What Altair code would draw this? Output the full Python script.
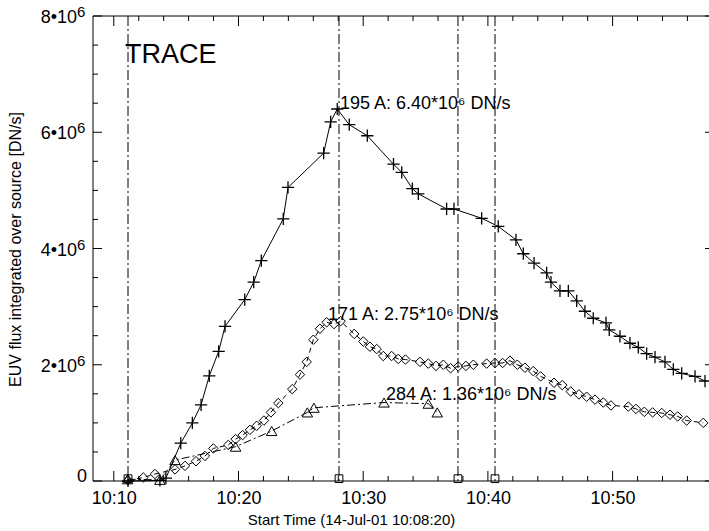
import altair as alt
import pandas as pd

# time in minutes after 10:00 UT (14-Jul-01), flux in units of 1e6 DN/s
t195 = [11.14, 13.70, 14.18, 15.37, 16.30, 17.00, 17.66, 18.41, 18.92, 20.50, 21.22, 21.83,
        23.59, 23.97, 26.83, 27.39, 27.92, 28.88, 30.33, 32.43, 33.09, 33.94, 34.42, 36.69,
        37.28, 39.50, 40.83, 42.25, 42.84, 43.70, 44.71, 45.06, 45.78, 46.45, 47.12, 47.78,
        48.45, 49.47, 49.73, 50.59, 51.39, 52.06, 52.73, 53.40, 54.20, 54.87, 55.54, 56.61, 57.41]
f195 = [0.00, 0.01, 0.05, 0.65, 1.00, 1.31, 1.81, 2.23, 2.66, 3.12, 3.42, 3.79,
        4.51, 5.05, 5.64, 6.18, 6.40, 6.13, 5.94, 5.45, 5.31, 5.03, 4.94, 4.68,
        4.68, 4.52, 4.38, 4.15, 3.91, 3.75, 3.58, 3.42, 3.27, 3.27, 3.10, 2.92,
        2.80, 2.72, 2.60, 2.49, 2.37, 2.30, 2.19, 2.13, 2.05, 1.92, 1.85, 1.80, 1.72]

t171 = [11.14, 12.37, 13.30, 14.91, 15.71, 16.59, 17.31, 17.98, 19.18, 19.77, 20.33, 20.92,
        21.46, 22.04, 22.60, 23.19, 24.31, 24.93, 25.47, 26.00, 26.53, 27.07, 27.66, 28.19,
        29.28, 30.01, 30.54, 31.08, 31.61, 32.28, 32.81, 33.39, 34.55, 35.22, 35.84, 36.42,
        37.01, 37.62, 38.24, 38.83, 39.90, 40.57, 41.18, 41.77, 42.36, 42.97, 43.64, 44.23,
        45.30, 45.96, 46.64, 47.30, 47.92, 48.59, 49.25, 49.87, 51.26, 51.87, 52.54, 53.21,
        53.94, 54.60, 55.22, 55.94, 57.27]
f171 = [0.01, 0.06, 0.12, 0.20, 0.26, 0.34, 0.43, 0.56, 0.62, 0.72, 0.79, 0.88,
        0.95, 1.04, 1.18, 1.34, 1.58, 1.83, 2.05, 2.43, 2.62, 2.73, 2.70, 2.75,
        2.53, 2.40, 2.31, 2.27, 2.15, 2.15, 2.10, 2.09, 2.05, 2.02, 1.98, 2.00,
        1.94, 1.97, 1.98, 2.00, 2.02, 2.03, 2.03, 2.07, 2.00, 1.95, 1.89, 1.80,
        1.69, 1.65, 1.54, 1.49, 1.45, 1.40, 1.35, 1.30, 1.28, 1.24, 1.19, 1.18,
        1.17, 1.14, 1.11, 1.04, 1.00]

t284 = [11.11, 13.70, 14.91, 19.77, 22.66, 25.52, 26.05, 31.67, 35.22, 35.94]
f284 = [0.03, 0.02, 0.36, 0.59, 0.86, 1.18, 1.26, 1.35, 1.33, 1.18]

event_t = [11.14, 28.06, 37.60, 40.57]
event_f = [0.04, 0.04, 0.04, 0.04]

ann_t = [28.14, 27.18, 31.83]
ann_f = [6.49, 2.86, 1.48]
ann_text = ["195 A: 6.40*10⁶ DN/s", "171 A: 2.75*10⁶ DN/s", "284 A: 1.36*10⁶ DN/s"]

x_major = [10, 20, 30, 40, 50]
x_minor = [12, 14, 16, 18, 22, 24, 26, 28, 32, 34, 36, 38, 42, 44, 46, 48, 52, 54, 56]
y_major = [0, 2, 4, 6, 8]
y_minor = [0.5, 1, 1.5, 2.5, 3, 3.5, 4.5, 5, 5.5, 6.5, 7, 7.5]
y_lab_f = [2, 4, 6, 8]
y_lab_text = ["2•10", "4•10", "6•10", "8•10"]
y_lab_sup = ["6", "6", "6", "6"]

W, H = 616, 465
FONT = "Liberation Sans"

xscale = alt.Scale(domain=[8.333, 57.73], nice=False, zero=False)
yscale = alt.Scale(domain=[0, 8], nice=False, zero=False)

xaxis = alt.Axis(values=x_major, labelExpr="'10:' + datum.value", ticks=False, domain=False,
                 grid=False, labelFont=FONT, labelFontSize=18, labelColor="black", labelPadding=8,
                 title="Start Time (14-Jul-01 10:08:20)", titleFont=FONT, titleFontSize=15,
                 titleFontWeight="normal", titleColor="black", titleX=258, titleY=38,
                 titleBaseline="middle", titleAlign="center")
yaxis = alt.Axis(values=y_major, labels=False, ticks=False, domain=False, grid=False,
                 title="EUV flux integrated over source [DN/s]", titleFont=FONT, titleFontSize=16,
                 titleFontWeight="normal", titleColor="black", titleX=-78, titleY=233,
                 titleAngle=-90, titleBaseline="middle", titleAlign="center")

X = alt.X("t:Q", scale=xscale, axis=xaxis)
Y = alt.Y("f:Q", scale=yscale, axis=yaxis)

d195 = pd.DataFrame({"t": t195, "f": f195})
d171 = pd.DataFrame({"t": t171, "f": f171})
d284 = pd.DataFrame({"t": t284, "f": f284})
dev = pd.DataFrame({"t": event_t, "f": event_f})
dann = pd.DataFrame({"t": ann_t, "f": ann_f, "label": ann_text})
dylab = pd.DataFrame({"f": y_lab_f, "label": y_lab_text, "sup": y_lab_sup})
dy0 = pd.DataFrame({"f": [0], "label": ["0"]})
dummy = alt.Data(values=[{}])

PLUS = "M-1,0H1M0,-1V1"

layers = []
# event lines
layers.append(alt.Chart(dev).mark_rule(color="black", strokeWidth=1, strokeDash=[10, 3, 2, 3]).encode(x=X))
layers.append(alt.Chart(dev).mark_point(shape="square", size=60, filled=False, color="black",
                                        strokeWidth=1, opacity=1).encode(x=X, y=Y))
# series
layers.append(alt.Chart(d195).mark_line(color="black", strokeWidth=1).encode(x=X, y=Y))
layers.append(alt.Chart(d195).mark_point(shape=PLUS, size=150, filled=False, color="black",
                                         strokeWidth=1.3, opacity=1).encode(x=X, y=Y))
layers.append(alt.Chart(d171).mark_line(color="black", strokeWidth=1, strokeDash=[5, 4]).encode(x=X, y=Y))
layers.append(alt.Chart(d171).mark_point(shape="diamond", size=90, filled=False, color="black",
                                         strokeWidth=1, opacity=1).encode(x=X, y=Y))
layers.append(alt.Chart(d284).mark_line(color="black", strokeWidth=1, strokeDash=[8, 3, 2, 3]).encode(x=X, y=Y))
layers.append(alt.Chart(d284).mark_point(shape="triangle-up", size=110, filled=False, color="black",
                                         strokeWidth=1, opacity=1).encode(x=X, y=Y))
# annotations
layers.append(alt.Chart(dann).mark_text(align="left", baseline="middle", font=FONT, fontSize=18,
                                        color="black").encode(x=X, y=Y, text="label:N"))
layers.append(alt.Chart(dummy).mark_text(align="left", baseline="alphabetic", font=FONT, fontSize=27,
                                         color="black", text="TRACE").encode(
    x=alt.value(32), y=alt.value(47)))
# y tick labels with superscript exponent
layers.append(alt.Chart(dylab).mark_text(align="right", baseline="middle", font=FONT, fontSize=18,
                                         color="black", dy=2).encode(
    x=alt.value(-16), y=Y, text="label:N"))
layers.append(alt.Chart(dylab).mark_text(align="left", baseline="middle", font=FONT, fontSize=15,
                                         color="black", dy=-4).encode(
    x=alt.value(-16), y=Y, text="sup:N"))
layers.append(alt.Chart(dy0).mark_text(align="right", baseline="middle", font=FONT, fontSize=18,
                                       color="black", dy=-4).encode(
    x=alt.value(-6), y=Y, text="label:N"))
# frame
layers.append(alt.Chart(dummy).mark_rule(color="black", strokeWidth=1).encode(
    x=alt.value(0), y=alt.value(0), y2=alt.value(H)))
layers.append(alt.Chart(dummy).mark_rule(color="black", strokeWidth=1).encode(
    x=alt.value(0), x2=alt.value(W), y=alt.value(0)))
layers.append(alt.Chart(dummy).mark_rule(color="black", strokeWidth=1).encode(
    x=alt.value(0), x2=alt.value(W), y=alt.value(H)))
# ticks (pointing inward, mirrored on top)
dxM = pd.DataFrame({"t": x_major})
dxm = pd.DataFrame({"t": x_minor})
dyM = pd.DataFrame({"f": y_major})
dym = pd.DataFrame({"f": y_minor})
tk = dict(color="black", strokeWidth=1)
layers.append(alt.Chart(dxM).mark_rule(**tk).encode(x=X, y=alt.value(H), y2=alt.value(H - 10)))
layers.append(alt.Chart(dxm).mark_rule(**tk).encode(x=X, y=alt.value(H), y2=alt.value(H - 5)))
layers.append(alt.Chart(dxM).mark_rule(**tk).encode(x=X, y=alt.value(0), y2=alt.value(10)))
layers.append(alt.Chart(dxm).mark_rule(**tk).encode(x=X, y=alt.value(0), y2=alt.value(5)))
layers.append(alt.Chart(dyM).mark_rule(**tk).encode(y=Y, x=alt.value(0), x2=alt.value(9)))
layers.append(alt.Chart(dym).mark_rule(**tk).encode(y=Y, x=alt.value(0), x2=alt.value(5)))
layers.append(alt.Chart(dyM).mark_rule(**tk).encode(y=Y, x=alt.value(W - 4), x2=alt.value(W)))

chart = alt.layer(*layers).properties(
    width=W, height=H,
    padding={"left": 93, "top": 16, "right": 0, "bottom": 50},
    autosize=alt.AutoSizeParams(type="none"),
    background="white",
).configure_view(stroke=None)

chart.save("out.html", embed_options={"renderer": "svg", "actions": False})
